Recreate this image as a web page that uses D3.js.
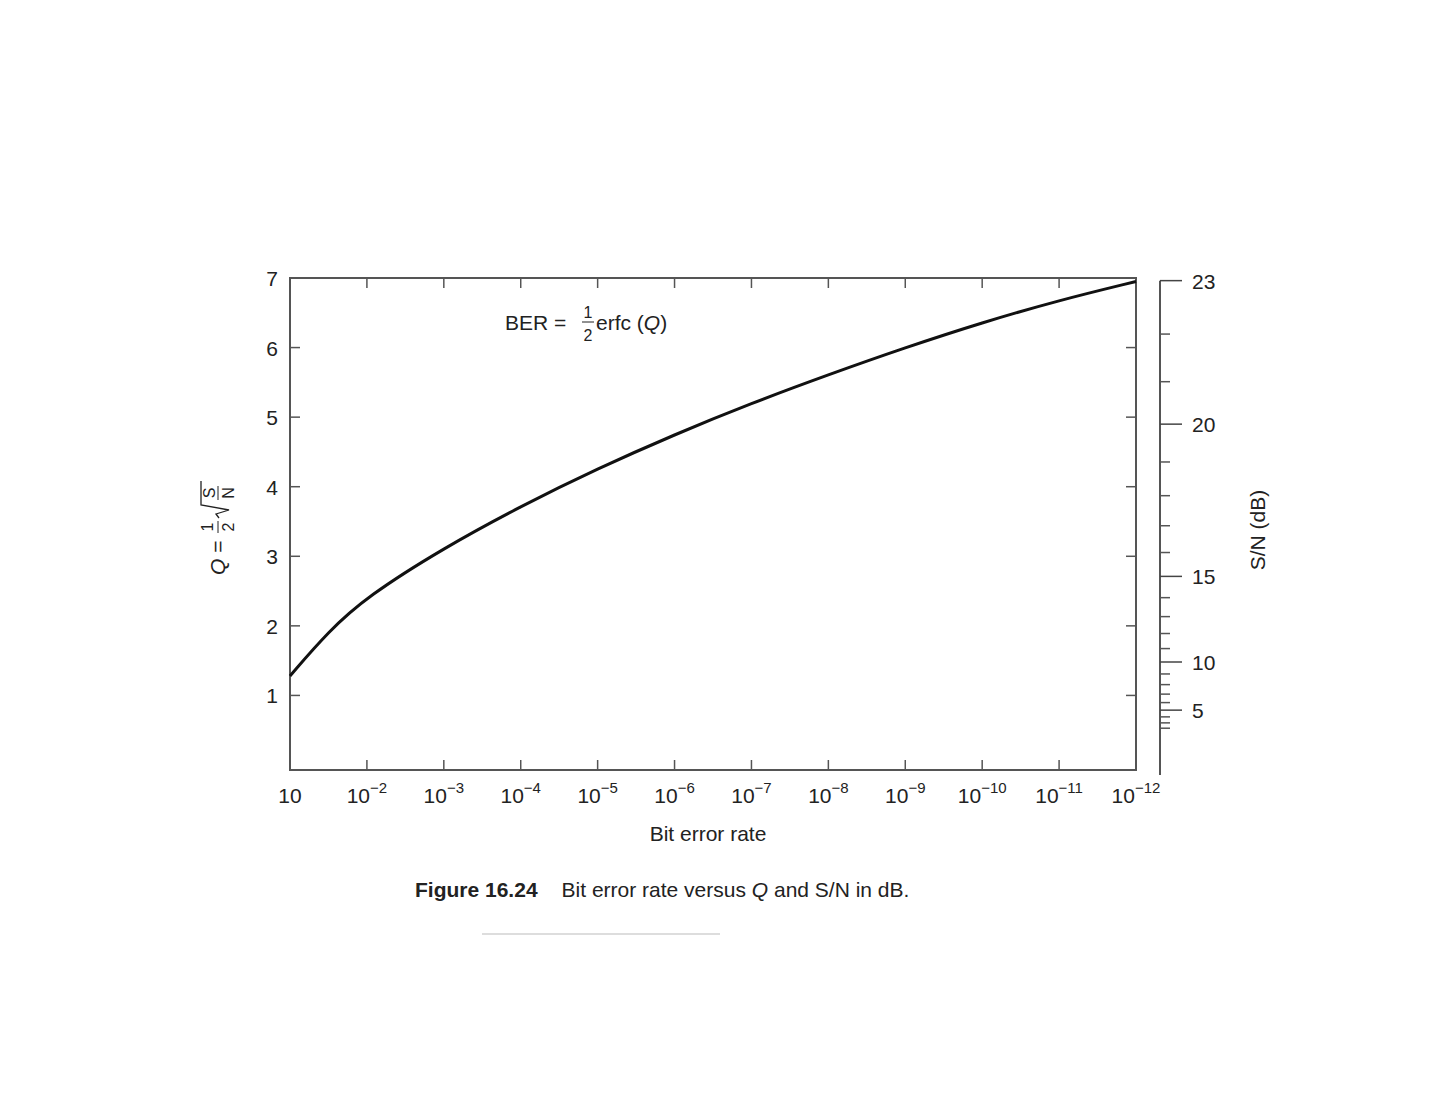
<!DOCTYPE html><html><head><meta charset="utf-8"><script src="https://cdn.jsdelivr.net/npm/d3@7"></script>
<style>body{margin:0;background:#fff}text{font-family:"Liberation Sans",Arial,sans-serif;fill:#222}</style></head><body><svg id="c" width="1456" height="1120"></svg><script>
const berExp=[1,1.5,2,3,4,5,6,7,8,9,10,11,12];
const qVals=[1.28,1.92,2.42,3.12,3.72,4.26,4.75,5.20,5.61,6.00,6.36,6.68,6.95];
const xTickExp=[1,2,3,4,5,6,7,8,9,10,11,12];
const yTicks=[1,2,3,4,5,6,7];
const dbMajor=[5,10,15,20,23];
const dbMinor=[2,3,4,6,7,8,9,11,12,13,14,16,17,18,19,21,22];
const svg=d3.select("#c");
const L=290,R=1136,T=278,B=770;
const x=d3.scaleLinear().domain([1,12]).range([L,R]);
const y=d3.scaleLinear().domain([0,7]).range([765,T]);
const g=svg.append("g");
g.append("rect").attr("x",L).attr("y",T).attr("width",R-L).attr("height",B-T).attr("fill","none").attr("stroke","#555").attr("stroke-width",2);
yTicks.forEach(v=>{g.append("line").attr("x1",L).attr("x2",L+10).attr("y1",y(v)).attr("y2",y(v)).attr("stroke","#555").attr("stroke-width",1.5);
 g.append("line").attr("x1",R).attr("x2",R-10).attr("y1",y(v)).attr("y2",y(v)).attr("stroke","#555").attr("stroke-width",1.5);
 g.append("text").attr("x",L-12).attr("y",y(v)+8).attr("text-anchor","end").attr("font-size",21).text(v);});
xTickExp.forEach(e=>{g.append("line").attr("x1",x(e)).attr("x2",x(e)).attr("y1",B).attr("y2",B-10).attr("stroke","#555").attr("stroke-width",1.5);
 g.append("line").attr("x1",x(e)).attr("x2",x(e)).attr("y1",T).attr("y2",T+10).attr("stroke","#555").attr("stroke-width",1.5);
 const t=g.append("text").attr("x",x(e)).attr("y",803).attr("text-anchor","middle").attr("font-size",21);
 if(e===1){t.text("10");}else{t.append("tspan").text("10");t.append("tspan").attr("dy",-10).attr("font-size",15).text("\u2212"+e);}});
g.append("text").attr("x",708).attr("y",841).attr("text-anchor","middle").attr("font-size",21).text("Bit error rate");
const line=d3.line().x(d=>x(d[0])).y(d=>y(d[1])).curve(d3.curveBasis);
g.append("path").datum(berExp.map((e,i)=>[e,qVals[i]])).attr("d",line).attr("fill","none").attr("stroke","#111").attr("stroke-width",3);
const ax=1160;const ydb=db=>y(Math.pow(10,db/20)/2)+7;
g.append("line").attr("x1",ax).attr("x2",ax).attr("y1",ydb(23)).attr("y2",775).attr("stroke","#555").attr("stroke-width",2);
dbMajor.forEach(d=>{g.append("line").attr("x1",ax).attr("x2",ax+22).attr("y1",ydb(d)).attr("y2",ydb(d)).attr("stroke","#444").attr("stroke-width",1.5);
 g.append("text").attr("x",ax+32).attr("y",ydb(d)+8).attr("font-size",21).text(d);});
dbMinor.forEach(d=>g.append("line").attr("x1",ax).attr("x2",ax+10).attr("y1",ydb(d)).attr("y2",ydb(d)).attr("stroke","#555").attr("stroke-width",1.5));
g.append("text").attr("transform","translate(1265,530) rotate(-90)").attr("text-anchor","middle").attr("font-size",21).text("S/N (dB)");
const a=g.append("text").attr("x",505).attr("y",330).attr("font-size",21);
a.append("tspan").text("BER =");
g.append("text").attr("x",588).attr("y",318).attr("text-anchor","middle").attr("font-size",16).text("1");
g.append("line").attr("x1",582).attr("x2",594).attr("y1",322).attr("y2",322).attr("stroke","#222");
g.append("text").attr("x",588).attr("y",341).attr("text-anchor","middle").attr("font-size",16).text("2");
const a2=g.append("text").attr("x",596).attr("y",330).attr("font-size",21);
a2.append("tspan").text("erfc (");a2.append("tspan").attr("font-style","italic").text("Q");a2.append("tspan").text(")");
const yl=g.append("g").attr("transform","translate(225,575) rotate(-90)");
const t1=yl.append("text").attr("x",0).attr("y",0).attr("font-size",21);
t1.append("tspan").attr("font-style","italic").text("Q");t1.append("tspan").text(" = ");
yl.append("text").attr("x",48).attr("y",-12).attr("text-anchor","middle").attr("font-size",16).text("1");
yl.append("line").attr("x1",42).attr("x2",54).attr("y1",-7).attr("y2",-7).attr("stroke","#222");
yl.append("text").attr("x",48).attr("y",9).attr("text-anchor","middle").attr("font-size",16).text("2");
yl.append("path").attr("d","M57,-6 L61,-9 L65,4 L70,-24 L94,-24").attr("fill","none").attr("stroke","#222").attr("stroke-width",1.3);
yl.append("text").attr("x",82).attr("y",-10).attr("text-anchor","middle").attr("font-size",16).text("S");
yl.append("line").attr("x1",75).attr("x2",89).attr("y1",-7).attr("y2",-7).attr("stroke","#222");
yl.append("text").attr("x",82).attr("y",9).attr("text-anchor","middle").attr("font-size",16).text("N");
const c=g.append("text").attr("x",415).attr("y",897).attr("font-size",21);
c.append("tspan").attr("font-weight","bold").text("Figure 16.24");
c.append("tspan").attr("dx",24).text("Bit error rate versus ");
c.append("tspan").attr("font-style","italic").text("Q");
c.append("tspan").text(" and S/N in dB.");
g.append("line").attr("x1",482).attr("x2",720).attr("y1",934).attr("y2",934).attr("stroke","#bbb");
</script></body></html>
